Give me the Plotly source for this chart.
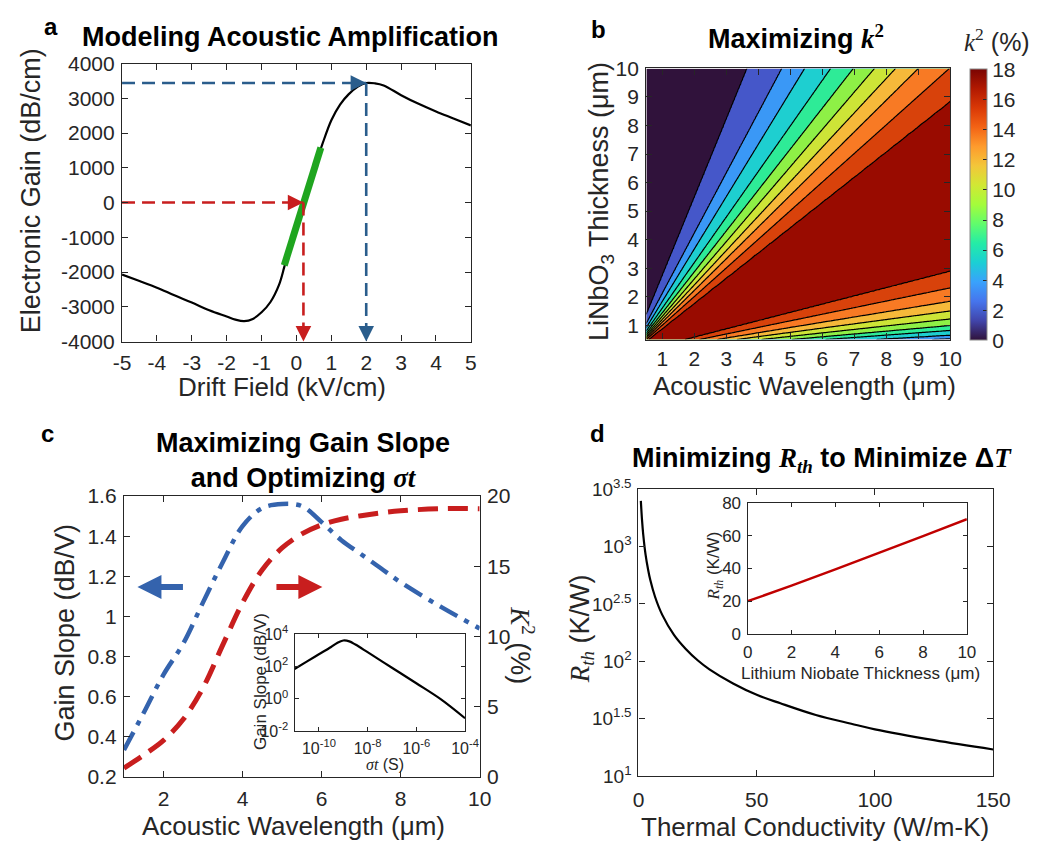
import numpy as np
import plotly.graph_objects as go

W, H = 1056, 854
SANS = "Liberation Sans, Arial, sans-serif"
SERIF = "Liberation Serif"
INK = "#262626"

# ---------------- (a) electronic gain vs drift field ----------------
drift_field = [-5, -4.5, -4, -3.5, -3, -2.5, -2, -1.75, -1.5, -1.25, -1, -0.75,
               -0.5, -0.35, -0.25, 0, 0.25, 0.5, 0.75, 1, 1.25, 1.5, 1.75, 2,
               2.25, 2.5, 3, 3.5, 4, 4.5, 5]
electronic_gain = [-2075, -2260, -2450, -2670, -2880, -3100, -3280, -3370, -3415,
                   -3350, -3160, -2870, -2370, -1860, -1500, -690, 120, 930, 1700,
                   2370, 2820, 3120, 3330, 3440, 3430, 3370, 3090, 2840, 2620,
                   2420, 2220]
tangent_field = [-0.35, 0.70]
tangent_gain = [-1810, 1580]
zero_gain_field = 0.2
a_xticks = [-5, -4, -3, -2, -1, 0, 1, 2, 3, 4, 5]
a_yticks = [-4000, -3000, -2000, -1000, 0, 1000, 2000, 3000, 4000]

# ---------------- (b) k^2 map over wavelength / thickness ----------------
# k^2 (%) at the thickness-to-wavelength ratios where each contour level sits
thickness_ratio = [0, 0.040, 0.053, 0.065, 0.082, 0.099, 0.122, 0.150, 0.184,
                   0.231, 0.289, 0.50, 0.885, 1.003, 1.111, 1.206, 1.31, 1.434,
                   1.596, 1.835, 2.11, 2.74, 4.0, 25.0]
k2_at_ratio = [0, 1.65, 3.3, 4.95, 6.6, 8.25, 9.9, 11.55, 13.2, 14.85, 16.5,
               18.3, 16.5, 14.85, 13.2, 11.55, 9.9, 8.25, 6.6, 4.95, 3.3, 1.65,
               0.3, 0]
k2_levels = dict(start=1.65, end=16.6, size=1.65)
b_ticks = [1, 2, 3, 4, 5, 6, 7, 8, 9, 10]
cbar_ticks = [0, 2, 4, 6, 8, 10, 12, 14, 16, 18]
wavelength_grid = np.linspace(0.5, 10, 191)
thickness_grid = np.linspace(0.5, 10, 191)
k2_map = np.interp(thickness_grid[:, None] / wavelength_grid[None, :],
                   thickness_ratio, k2_at_ratio)

# ---------------- (c) gain slope and k^2 vs wavelength ----------------
wavelength_c = [1, 1.5, 2, 2.5, 3, 3.5, 4, 4.5, 5, 5.5, 6, 6.5, 7, 7.5, 8, 9, 10]
gain_slope = [0.334, 0.52, 0.71, 0.865, 1.07, 1.27, 1.45, 1.54, 1.56, 1.55,
              1.47, 1.38, 1.31, 1.24, 1.17, 1.05, 0.94]
k2_curve = [0.63, 1.56, 2.6, 4.1, 6.35, 9.4, 12.4, 14.75, 16.3, 17.3, 17.95,
            18.35, 18.6, 18.8, 18.95, 19.1, 19.1]
blue_arrow = dict(tail=2.53, tip=1.34, level=1.146)
red_arrow = dict(tail=4.82, tip=6.02, level=1.146)

# inset: gain slope vs sigma*t (log10 values)
sigma_t_log = [-11, -10.5, -10, -9.5, -9.25, -9, -8.75, -8.5, -8, -7, -6, -5, -4]
slope_log = [1.84, 2.3, 2.75, 3.2, 3.45, 3.6, 3.55, 3.35, 2.88, 1.92, 0.96,
             -0.02, -1.2]
inset_c_xticks = [-10, -8, -6, -4]
inset_c_yticks = [-2, 0, 2, 4]

# ---------------- (d) thermal resistance ----------------
conductivity = [1, 1.5, 2, 3, 4, 5, 7, 10, 15, 20, 25, 30, 40, 50, 60, 75, 90,
                100, 125, 150]
r_thermal = [2500, 1700, 1280, 850, 640, 510, 365, 255, 170, 128, 102, 85, 64,
             51, 43, 34, 28.5, 25.5, 20.5, 17]
d_ylog_ticks = [1, 1.5, 2, 2.5, 3, 3.5]
d_xticks = [0, 50, 100, 150]

ln_thickness = [0, 2, 4, 6, 8, 10]
r_thermal_inset = [20, 29.5, 39.5, 49.5, 59.7, 70]

RED = "#c81e1e"
BLUE_A = "#2a5d8c"
BLUE_C = "#3463ad"
GREEN = "#1fa51f"
# one fill colour per contour band, lowest band first
BAND_COLORS = ["#30123b", "#4557c9", "#3a98f6", "#1ecfd0", "#2eeb97", "#8ef046",
               "#cde437", "#f6b93a", "#f87a24", "#d8420b", "#990b00"]
band_scale = [[k / (len(BAND_COLORS) - 1), c] for k, c in enumerate(BAND_COLORS)]


def px(x):
    return x / W


def py(y):
    return 1 - y / H


def math(s):
    return f'<span style="font-family:{SERIF}">{s}</span>'


def axis(x0, x1, rng, anchor, size=21, **kw):
    d = dict(domain=[px(x0), px(x1)], range=rng, anchor=anchor, showline=True,
             linecolor=INK, linewidth=1.3, mirror="ticks", ticks="inside",
             ticklen=6, tickwidth=1.2, tickcolor=INK, showgrid=False,
             zeroline=False, ticklabelstandoff=2,
             tickfont=dict(family=SANS, size=size, color=INK))
    d.update(kw)
    return d


def yaxis(y0, y1, rng, anchor, size=21, **kw):
    d = axis(0, 1, rng, anchor, size=size, **kw)
    d["domain"] = [py(y1), py(y0)]
    return d


fig = go.Figure()

# (a)
fig.add_trace(go.Scatter(x=drift_field, y=electronic_gain, mode="lines",
                         line=dict(color="black", width=2.2, shape="spline"),
                         xaxis="x", yaxis="y"))
fig.add_trace(go.Scatter(x=tangent_field, y=tangent_gain, mode="lines",
                         line=dict(color=GREEN, width=7), xaxis="x", yaxis="y"))
a_x0, a_y0 = a_xticks[0], a_yticks[0]
peak_i = int(np.argmax(electronic_gain))
peak_field, peak_gain = drift_field[peak_i], electronic_gain[peak_i]
for gx, gy, col in [(zero_gain_field, 0, RED), (peak_field, peak_gain, BLUE_A)]:
    fig.add_trace(go.Scatter(x=[a_x0, gx, None, gx, gx], y=[gy, gy, None, gy, a_y0],
                             mode="lines", line=dict(color=col, width=2.6, dash="13px,7px"),
                             xaxis="x", yaxis="y"))

# (b)
fig.add_trace(go.Heatmap(x=wavelength_grid, y=thickness_grid, z=k2_map,
                         colorscale="Turbo", zmin=0, zmax=18, opacity=0,
                         hoverinfo="skip", xaxis="x2", yaxis="y2",
                         colorbar=dict(x=px(986), xanchor="left", xpad=0, ypad=0,
                                       thickness=17, thicknessmode="pixels",
                                       len=279 / H, lenmode="fraction",
                                       y=py(197.5), yanchor="middle",
                                       tickvals=cbar_ticks, ticks="inside",
                                       ticklen=4, tickcolor=INK,
                                       outlinewidth=1, outlinecolor="#8a8a8a",
                                       tickfont=dict(family=SANS, size=21, color=INK))))
fig.add_trace(go.Contour(x=wavelength_grid, y=thickness_grid, z=k2_map,
                         colorscale=band_scale, showscale=False,
                         contours=dict(coloring="fill", **k2_levels),
                         line=dict(color="black", width=1.2),
                         hoverinfo="skip", xaxis="x2", yaxis="y2"))

# (c)
fig.add_trace(go.Scatter(x=wavelength_c, y=gain_slope, mode="lines",
                         line=dict(color=BLUE_C, width=4.5, shape="spline",
                                   dash="20px,8px,5px,8px"),
                         xaxis="x3", yaxis="y3"))
fig.add_trace(go.Scatter(x=wavelength_c, y=k2_curve, mode="lines",
                         line=dict(color=RED, width=5, shape="spline",
                                   dash="20px,10px"),
                         xaxis="x3", yaxis="y4"))
fig.add_trace(go.Scatter(x=[10 ** v for v in sigma_t_log], y=[10 ** v for v in slope_log],
                         mode="lines", line=dict(color="black", width=2.2, shape="spline"),
                         xaxis="x5", yaxis="y5"))

# (d)
fig.add_trace(go.Scatter(x=conductivity, y=r_thermal, mode="lines",
                         line=dict(color="black", width=2.2, shape="spline"),
                         xaxis="x6", yaxis="y6"))
fig.add_trace(go.Scatter(x=ln_thickness, y=r_thermal_inset, mode="lines",
                         line=dict(color="#c00000", width=2.4),
                         xaxis="x7", yaxis="y7"))

ann = []


def text(s, x, y, size, bold=False, angle=0, color="black", family=SANS):
    if bold:
        s = f"<b>{s}</b>"
    ann.append(dict(text=s, x=px(x), y=py(y), xref="paper", yref="paper",
                    showarrow=False, textangle=angle, xanchor="center",
                    yanchor="middle", font=dict(size=size, color=color, family=family)))


# arrowheads for the guide lines in (a)
for gx, gy, col in [(zero_gain_field, 0, RED), (peak_field, peak_gain, BLUE_A)]:
    ann.append(dict(x=gx, y=gy, xref="x", yref="y", ax=-14, ay=0, text="",
                    showarrow=True, arrowhead=2, arrowsize=1.3, arrowwidth=2.4,
                    arrowcolor=col))
    ann.append(dict(x=gx, y=a_y0, xref="x", yref="y", ax=0, ay=-14, text="",
                    showarrow=True, arrowhead=2, arrowsize=1.3, arrowwidth=2.4,
                    arrowcolor=col))

# axis-pointing arrows in (c)
for arr, col in [(blue_arrow, BLUE_C), (red_arrow, RED)]:
    ann.append(dict(x=arr["tip"], y=arr["level"], ax=arr["tail"], ay=arr["level"],
                    xref="x3", yref="y3", axref="x3", ayref="y3", text="",
                    showarrow=True, arrowhead=2, arrowsize=0.8, arrowwidth=6,
                    arrowcolor=col))

# panel letters and titles
text("a", 43, 14, 24, bold=True)
text("Modeling Acoustic Amplification", 289, 25, 27, bold=True)
text("b", 605, 17, 24, bold=True)
text("Maximizing " + math("<i>k</i><sup>2</sup>"), 808, 25, 27, bold=True)
text(math("<i>k</i><sup>2</sup>") + " (%)", 1014, 28, 25, color=INK)
text("c", 40, 433, 24, bold=True)
text("Maximizing Gain Slope<br>and Optimizing " + math("<i>σt</i>"), 302, 460, 27, bold=True)
text("d", 604, 433, 24, bold=True)
text("Minimizing " + math("<i>R<sub>th</sub></i>") + " to Minimize Δ" + math("<i>T</i>"),
     834, 460, 27, bold=True)

# axis titles
text("Electronic Gain (dB/cm)", 22, 183, 27, angle=-90, color=INK)
text("Drift Field (kV/cm)", 280, 385, 26, color=INK)
text("LiNbO<sub>3</sub> Thickness (μm)", 607, 194, 27, angle=-90, color=INK)
text("Acoustic Wavelength (μm)", 816, 384, 26, color=INK)
text("Gain Slope (dB/V)", 58, 638, 27, angle=-90, color=INK)
text("Acoustic Wavelength (μm)", 292, 836, 26, color=INK)
text(math("<i>K</i><sup>2</sup>") + " (%)", 527, 650, 27, angle=90, color=INK)
text(math("<i>R<sub>th</sub></i>") + " (K/W)", 588, 633, 27, angle=-90, color=INK)
text("Thermal Conductivity (W/m-K)", 827, 838, 26, color=INK)
text("Gain Slope (dB/V)", 258, 688, 17, angle=-90, color=INK)
text(math("<i>σt</i>") + " (S)", 386, 773, 16, color=INK)
text(math("<i>R<sub>th</sub></i>") + " (K/W)", 725, 569, 17, angle=-90, color=INK)
text("Lithium Niobate Thickness (μm)", 874, 680, 17, color=INK)

fig.update_layout(
    width=W, height=H, autosize=False,
    margin=dict(l=0, r=0, t=0, b=0),
    paper_bgcolor="white", plot_bgcolor="white",
    showlegend=False,
    font=dict(family=SANS, color=INK),
    annotations=ann,
    xaxis=axis(116, 474, [-5, 5], "y", tickvals=a_xticks,
               ticktext=[str(v) for v in a_xticks]),
    yaxis=yaxis(52, 338, [-4000, 4000], "x", tickvals=a_yticks,
                ticktext=[str(v) for v in a_yticks]),
    xaxis2=axis(654, 966, [0.5, 10], "y2", tickvals=b_ticks, ticklabelstandoff=0),
    yaxis2=yaxis(57, 336, [0.5, 10], "x2", tickvals=b_ticks),
    xaxis3=axis(118, 483, [1, 10], "y3", tickvals=[2, 4, 6, 8, 10], ticklabelstandoff=3),
    yaxis3=yaxis(497, 786, [0.2, 1.6], "x3", tickvals=[0.2, 0.4, 0.6, 0.8, 1, 1.2, 1.4, 1.6],
                 mirror=False),
    yaxis4=yaxis(497, 786, [0, 20], "x3", tickvals=[0, 5, 10, 15, 20],
                 overlaying="y3", side="right", mirror=False),
    xaxis5=axis(293, 468, [-11, -4], "y5", size=16, type="log", ticklen=4,
                tickvals=[10 ** v for v in inset_c_xticks],
                ticktext=[f"10<sup>{v}</sup>" for v in inset_c_xticks]),
    yaxis5=yaxis(639, 739, [-2, 4], "x5", size=16, type="log", ticklen=4,
                 tickvals=[10 ** v for v in inset_c_yticks],
                 ticktext=[f"10<sup>{v}</sup>" for v in inset_c_yticks]),
    xaxis6=axis(646, 1010, [0, 150], "y6", tickvals=d_xticks, ticklabelstandoff=5),
    yaxis6=yaxis(490, 785, [1, 3.5], "x6", type="log",
                 tickvals=[10 ** v for v in d_ylog_ticks],
                 ticktext=[f"10<sup>{v:g}</sup>" for v in d_ylog_ticks],
                 tickfont=dict(family=SANS, size=19, color=INK)),
    xaxis7=axis(758, 983, [0, 10], "y7", size=17, ticklen=4, tickvals=[0, 2, 4, 6, 8, 10]),
    yaxis7=yaxis(504, 639, [0, 80], "x7", size=17, ticklen=4, tickvals=[0, 20, 40, 60, 80]),
)

fig.write_html("out.html")
